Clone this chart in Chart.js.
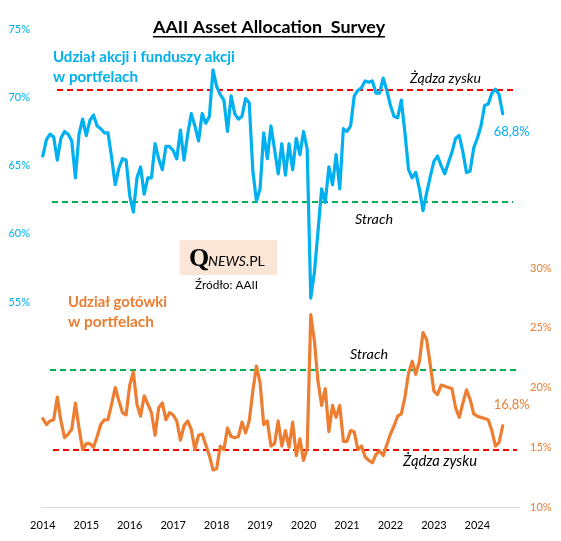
<!DOCTYPE html>
<html><head><meta charset="utf-8">
<script src="https://cdn.jsdelivr.net/npm/chart.js@4.4.0/dist/chart.umd.min.js"></script>
<style>html,body{margin:0;padding:0;background:#fff;}#wrap{width:561px;height:541px;}</style>
</head><body><div id="wrap"><canvas id="c" width="561" height="541"></canvas></div>
<script>
// ---- DATA ----
const years = [2014,2015,2016,2017,2018,2019,2020,2021,2022,2023,2024];
const months = [];
years.forEach(y => { for (let m = 1; m <= 12; m++) months.push(y + '-' + String(m).padStart(2,'0')); });

// Udział akcji i funduszy akcji (%), monthly from 2014-01
const stockShare = [
65.7,66.9,67.3,67.1,65.4,67.0,67.5,67.3,66.8,64.1,67.3,68.4,
67.2,68.3,68.7,67.9,67.7,67.4,67.4,65.6,63.6,64.8,65.5,65.4,
62.8,61.6,64.1,64.9,62.9,64.1,64.1,66.6,65.5,64.7,66.4,66.4,
66.1,65.5,67.6,65.4,67.3,68.8,67.9,66.8,68.8,68.1,68.6,72.0,
70.8,70.2,69.8,67.5,70.1,68.8,68.4,68.6,69.9,69.6,64.6,62.4,
63.3,67.4,65.5,67.9,66.2,64.4,66.6,64.3,66.6,64.7,67.0,65.8,
67.5,66.2,55.3,57.2,60.2,63.3,62.3,64.9,63.6,65.8,63.3,67.7,
67.5,67.9,70.1,70.5,70.7,71.2,71.1,71.2,70.3,70.3,71.4,70.5,
69.4,68.6,68.5,69.8,67.4,64.7,64.1,64.5,63.3,61.7,63.0,64.2,
65.3,65.7,65.0,64.4,65.2,66.0,67.0,67.2,66.0,64.5,64.6,66.3,
67.0,67.9,69.4,69.5,70.3,70.6,70.2,68.8
];
// Udział gotówki (%), monthly from 2014-01
const cashShare = [
17.4,16.9,17.2,17.3,19.2,17.2,15.8,16.1,16.5,18.7,16.6,14.8,
15.3,15.3,15.0,15.9,16.9,17.3,17.3,18.6,20.0,18.9,17.9,17.7,
20.2,21.3,18.6,17.6,19.3,18.6,17.9,16.0,18.3,18.7,17.3,17.9,
17.7,17.2,15.6,16.8,17.2,16.5,14.8,16.0,16.1,15.2,14.3,13.1,
13.2,15.1,14.8,16.6,15.9,15.8,15.9,17.1,16.2,17.2,19.7,21.8,
20.4,16.9,17.2,15.1,15.3,17.2,15.1,16.4,15.0,17.1,14.3,15.7,
13.9,14.9,26.1,23.9,20.5,18.5,19.9,16.3,18.5,17.5,18.5,15.5,
15.5,16.4,16.3,14.8,15.1,14.2,13.9,13.7,14.4,14.7,14.3,15.2,
16.1,16.8,17.6,17.8,19.2,21.2,22.2,21.1,22.2,24.6,24.0,21.9,
19.7,19.4,20.2,20.1,20.0,19.9,18.3,17.5,18.7,19.8,19.0,17.8,
17.6,17.5,17.4,17.3,16.4,15.1,15.4,16.8
];
// threshold levels: [greed, fear]
const stockLevels = [70.5, 62.3];
const cashLevels = [14.8, 21.5];
const leftTickValues = [55,60,65,70,75];
const rightTickValues = [10,15,20,25,30];
const lastStockLabel = '68,8%';
const lastCashLabel = '16,8%';

// ---- STYLE ----
const BLUE = '#00B0F0', ORANGE = '#ED7D31', RED = '#FF0000', GREEN = '#00B050';
const FONT = 'Lato';

function fitFont(ctx, text, style, target) {
  ctx.font = style + ' 100px ' + FONT;
  const w = ctx.measureText(text).width;
  const s = 100 * target / w;
  ctx.font = style + ' ' + s.toFixed(2) + 'px ' + FONT;
  return s;
}
function drawText(ctx, text, x, y, w, style, color) {
  fitFont(ctx, text, style, w);
  ctx.fillStyle = color;
  ctx.textBaseline = 'middle';
  ctx.textAlign = 'left';
  ctx.fillText(text, x, y);
}

const extras = {
  id: 'extras',
  beforeDatasetsDraw(chart) {
    const ctx = chart.ctx, a = chart.chartArea;
    const yl = chart.scales.yL, yr = chart.scales.yR;
    const lines = [
      [yl, stockLevels[0], RED, a.left + 16, a.right - 2],
      [yl, stockLevels[1], GREEN, a.left + 11, a.right - 6],
      [yr, cashLevels[1], GREEN, a.left + 9, a.right],
      [yr, cashLevels[0], RED, a.left + 12, a.right - 2]
    ];
    ctx.save();
    ctx.lineWidth = 2;
    ctx.setLineDash([6, 4]);
    lines.forEach(([sc, v, col, x0, x1]) => {
      const y = Math.round(sc.getPixelForValue(v));
      ctx.strokeStyle = col;
      ctx.beginPath(); ctx.moveTo(x0, y); ctx.lineTo(x1, y); ctx.stroke();
    });
    ctx.restore();
  },
  afterDraw(chart) {
    const ctx = chart.ctx;
    ctx.save();
    // title
    drawText(ctx, 'AAII Asset Allocation  Survey', 153, 27, 232, 'bold', '#000');
    ctx.fillStyle = '#000';
    ctx.fillRect(153, 36, 232, 1.5);
    drawText(ctx, 'Udział akcji i funduszy akcji', 53, 57, 182, 'bold', BLUE);
    drawText(ctx, 'w portfelach', 53, 77, 85, 'bold', BLUE);
    drawText(ctx, 'Żądza zysku', 410, 78, 71, 'italic', '#000');
    drawText(ctx, 'Strach', 355, 219, 38, 'italic', '#000');
    drawText(ctx, 'Udział gotówki', 68, 302, 99, 'bold', ORANGE);
    drawText(ctx, 'w portfelach', 68, 322, 86, 'bold', ORANGE);
    drawText(ctx, 'Strach', 350, 354, 38, 'italic', '#000');
    drawText(ctx, 'Żądza zysku', 403, 461, 74, 'italic', '#000');
    // last values, relative to last points
    const x = chart.scales.x, yl = chart.scales.yL, yr = chart.scales.yR;
    const li = stockShare.length - 1;
    const px = x.getPixelForValue(li);
    drawText(ctx, lastStockLabel, px - 9, yl.getPixelForValue(stockShare[li]) + 18, 36, 'normal', BLUE);
    drawText(ctx, lastCashLabel, px - 9, yr.getPixelForValue(cashShare[li]) - 21, 36, 'normal', ORANGE);
    // logo
    ctx.fillStyle = '#FBE5D6';
    ctx.fillRect(180, 240, 97, 35);
    ctx.fillStyle = '#000';
    ctx.textBaseline = 'alphabetic';
    ctx.font = 'bold 26px "Liberation Serif"';
    ctx.fillText('Q', 189, 266);
    ctx.font = 'italic 14px ' + FONT;
    ctx.fillText('NEWS', 208, 266);
    const wN = ctx.measureText('NEWS').width;
    ctx.font = '14px ' + FONT;
    ctx.fillText('.PL', 208 + wN, 266);
    drawText(ctx, 'Źródło: AAII', 195, 285, 63, 'normal', '#000');
    ctx.restore();
  }
};

new Chart(document.getElementById('c'), {
  type: 'line',
  data: {
    labels: months,
    datasets: [
      { label: 'Akcje', data: stockShare, yAxisID: 'yL', borderColor: BLUE, borderWidth: 3.2,
        pointRadius: 0, tension: 0, borderJoinStyle: 'round', borderCapStyle: 'round', order: 0 },
      { label: 'Gotówka', data: cashShare, yAxisID: 'yR', borderColor: ORANGE, borderWidth: 3.2,
        pointRadius: 0, tension: 0, borderJoinStyle: 'round', borderCapStyle: 'round', order: 1 }
    ]
  },
  options: {
    responsive: false, animation: false, devicePixelRatio: 1,
    layout: { padding: { top: 29, left: 0, right: 0, bottom: 0 } },
    plugins: { legend: { display: false }, tooltip: { enabled: false } },
    scales: {
      x: {
        type: 'category', offset: true,
        grid: { display: false, drawTicks: false },
        border: { display: true, color: '#D9D9D9', width: 1 },
        ticks: { autoSkip: false, maxRotation: 0, minRotation: 0, padding: 12, color: '#000',
          font: { family: FONT, size: 11 },
          callback: (v, i) => (i % 12 === 0 ? String(years[i / 12]) : '') },
        afterFit: s => { s.height = 34; }
      },
      yL: {
        position: 'left', min: 40, max: 75,
        grid: { display: false, drawTicks: false }, border: { display: false },
        afterBuildTicks: s => { s.ticks = leftTickValues.map(v => ({ value: v })); },
        ticks: { padding: 11, color: BLUE, font: { family: FONT, size: 11 }, callback: v => v + '%' },
        afterFit: s => { s.width = 41; }
      },
      yR: {
        position: 'right', min: 10, max: 50,
        grid: { display: false, drawTicks: false }, border: { display: false },
        afterBuildTicks: s => { s.ticks = rightTickValues.map(v => ({ value: v })); },
        ticks: { padding: 11, color: ORANGE, font: { family: FONT, size: 11 }, callback: v => v + '%' },
        afterFit: s => { s.width = 42; }
      }
    }
  },
  plugins: [extras]
});
</script>
</body></html>
